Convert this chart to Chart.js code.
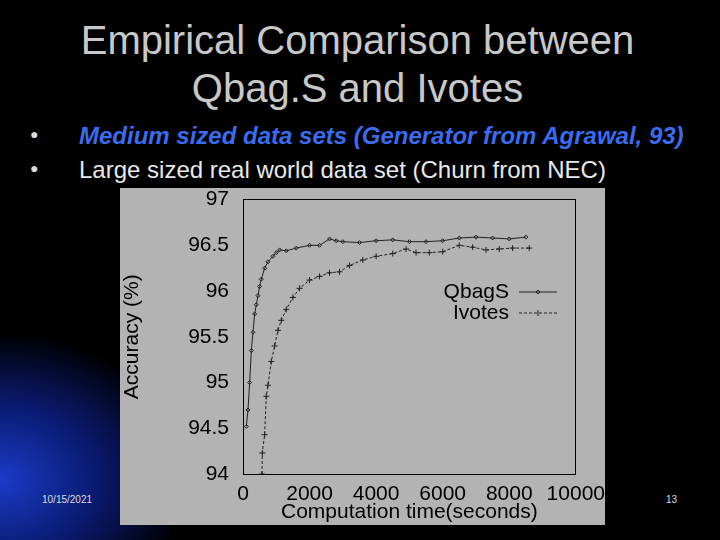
<!DOCTYPE html>
<html>
<head>
<meta charset="utf-8">
<script src="https://cdn.jsdelivr.net/npm/chart.js@4/dist/chart.umd.min.js"></script>
<style>
  body { margin:0; width:720px; height:540px; overflow:hidden; position:relative;
    background: radial-gradient(ellipse 240px 190px at 0px 480px, #1a3cc8 0%, #0a1a70 40%, #000 78%), #000;
    font-family: "Liberation Sans", Arial, sans-serif; }
  .title { position:absolute; top:16px; left:0; width:715px; text-align:center; color:#c8c8c8; font-size:40px; line-height:48px; }
  .b { position:absolute; left:30px; font-size:24px; line-height:28px; }
  .b span.dot { position:absolute; left:0; top:0; font-size:14px; color:#ddd; }
  .b span.t { position:absolute; left:49px; top:-14px; white-space:nowrap; }
  .foot { position:absolute; top:494px; font-size:10px; color:#ddd; }
  #wrap { position:absolute; left:120px; top:188px; width:485px; height:337px; background:#b3b3b3; overflow:hidden; }
  #c { position:absolute; left:0; top:-7px; }
</style>
</head>
<body>
<div class="title">Empirical Comparison between<br>Qbag.S and Ivotes</div>
<div class="b" style="top:136px"><span class="dot" style="top:-16px">●</span><span class="t" style="color:#3a6cf0;font-style:italic;font-weight:bold;font-size:24px">Medium sized data sets (Generator from Agrawal, 93)</span></div>
<div class="b" style="top:170px"><span class="dot" style="top:-16px">●</span><span class="t" style="color:#e8e8e8;font-size:24px">Large sized real world data set (Churn from NEC)</span></div>
<div class="foot" style="left:42px">10/15/2021</div>
<div class="foot" style="left:666px">13</div>
<div id="wrap"><canvas id="c" width="485" height="344"></canvas></div>
<script>
const qbagTime = [100,150,200,250,300,350,400,450,500,550,650,750,900,1000,1100,1300,1600,2000,2300,2600,2800,3000,3500,4000,4500,5000,5500,6000,6500,7000,7500,8000,8500];
const qbagAcc  = [94.52,94.7,95.0,95.35,95.55,95.75,95.85,95.95,96.05,96.13,96.25,96.32,96.38,96.42,96.45,96.44,96.47,96.5,96.5,96.57,96.55,96.54,96.53,96.55,96.56,96.54,96.54,96.55,96.58,96.59,96.58,96.57,96.59];
const ivTime = [570,580,650,700,750,850,950,1050,1150,1300,1500,1700,2000,2300,2600,2900,3200,3600,4000,4500,4900,5200,5600,6000,6500,6900,7300,7700,8100,8600];
const ivAcc  = [94.0,94.23,94.43,94.85,94.97,95.23,95.4,95.57,95.68,95.8,95.93,96.03,96.12,96.16,96.2,96.21,96.28,96.34,96.38,96.41,96.46,96.42,96.42,96.43,96.5,96.48,96.45,96.46,96.47,96.47];
const xTicks = [0,2000,4000,6000,8000,10000];
const yTicks = [94,94.5,95,95.5,96,96.5,97];

const pts = (xs, ys) => xs.map((x, i) => ({x: x, y: ys[i]}));
const font = {family: "'Liberation Sans', Arial, sans-serif", size: 21};

const legendPlugin = {
  id: 'inlegend',
  afterDraw(chart) {
    const ctx = chart.ctx;
    const rows = [['QbagS', []], ['Ivotes', [3, 2]]];
    ctx.save();
    ctx.font = "21px 'Liberation Sans', Arial, sans-serif";
    ctx.textAlign = 'right';
    ctx.textBaseline = 'middle';
    rows.forEach((r, i) => {
      const y = 111 + i * 21;
      ctx.fillStyle = '#000';
      ctx.fillText(r[0], 389, y);
      ctx.strokeStyle = '#222';
      ctx.lineWidth = 1;
      ctx.setLineDash(r[1]);
      ctx.beginPath(); ctx.moveTo(399, y); ctx.lineTo(437, y); ctx.stroke();
      ctx.setLineDash([]);
      ctx.beginPath();
      if (i === 0) { ctx.moveTo(418, y - 2); ctx.lineTo(420, y); ctx.lineTo(418, y + 2); ctx.lineTo(416, y); ctx.closePath(); }
      else { ctx.moveTo(418, y - 3); ctx.lineTo(418, y + 3); }
      ctx.stroke();
    });
    ctx.restore();
  }
};

new Chart(document.getElementById('c'), {
  type: 'scatter',
  data: {
    datasets: [
      { label: 'QbagS', data: pts(qbagTime, qbagAcc), showLine: true, borderColor: '#222', borderWidth: 1,
        pointStyle: 'rectRot', pointRadius: 2, pointBorderColor: '#222', pointBackgroundColor: 'transparent' },
      { label: 'Ivotes', data: pts(ivTime, ivAcc), showLine: true, borderColor: '#222', borderWidth: 1, borderDash: [3, 2],
        pointStyle: 'cross', pointRadius: 3, pointBorderColor: '#222' }
    ]
  },
  options: {
    responsive: false,
    animation: false,
    layout: { padding: { top: 4, right: 28, bottom: 0, left: 0 } },
    plugins: { legend: { display: false }, tooltip: { enabled: false } },
    scales: {
      x: {
        type: 'linear', min: 0, max: 10000,
        afterBuildTicks: s => { s.ticks = xTicks.map(v => ({value: v})); },
        afterFit: s => { s.height = 51; },
        grid: { display: false },
        border: { color: '#000' },
        ticks: { color: '#000', font: font, maxRotation: 0, padding: 0, callback: v => String(v) },
        title: { display: true, text: 'Computation time(seconds)', color: '#000', font: font, padding: 0 }
      },
      y: {
        min: 94, max: 97,
        afterBuildTicks: s => { s.ticks = yTicks.map(v => ({value: v})); },
        afterFit: s => { s.width = 123; },
        grid: { display: false },
        border: { color: '#000' },
        ticks: { color: '#000', font: font, padding: 6, callback: v => String(v) },
        title: { display: true, text: 'Accuracy (%)', color: '#000', font: font, padding: { top: 0, bottom: 4 } }
      },
      x2: { position: 'top', min: 0, max: 10000, afterFit: s => { s.height = 0; }, grid: { display: false }, ticks: { display: false }, border: { color: '#000' } },
      y2: { position: 'right', min: 94, max: 97, afterFit: s => { s.width = 0; }, grid: { display: false }, ticks: { display: false }, border: { color: '#000' } }
    }
  },
  plugins: [legendPlugin]
});
</script>
</body>
</html>
